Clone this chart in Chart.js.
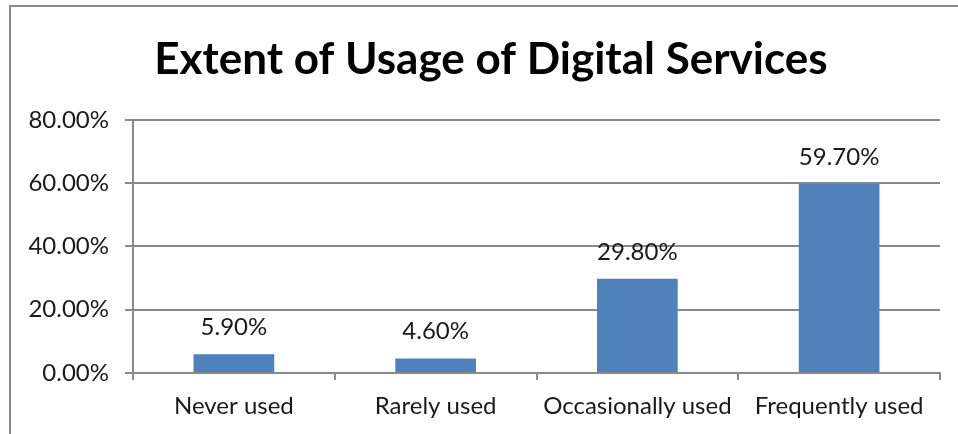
<!DOCTYPE html>
<html>
<head>
<meta charset="utf-8">
<script src="https://cdn.jsdelivr.net/npm/chart.js@4/dist/chart.umd.min.js"></script>
<style>
  html, body { margin: 0; padding: 0; background: #fff; }
  #wrap { position: relative; width: 958px; height: 434px; }
</style>
</head>
<body>
<div id="wrap"><canvas id="chart" width="958" height="434"></canvas></div>
<script>
// Survey data: how often respondents use digital services
const categories = ['Never used', 'Rarely used', 'Occasionally used', 'Frequently used'];
const usageShare = [5.9, 4.6, 29.8, 59.7];
const yTicks = [0, 20, 40, 60, 80];
const chartTitle = 'Extent of Usage of Digital Services';

const GRID = '#898989';
const TEXT = '#1a1a1a';
const FONT = 'Lato';

// Value labels above each bar
const valueLabels = {
  id: 'valueLabels',
  afterDatasetsDraw(chart) {
    const ctx = chart.ctx;
    const meta = chart.getDatasetMeta(0);
    ctx.save();
    ctx.font = '24px ' + FONT;
    ctx.fillStyle = TEXT;
    ctx.textAlign = 'center';
    ctx.textBaseline = 'alphabetic';
    meta.data.forEach((bar, i) => {
      const v = chart.data.datasets[0].data[i];
      ctx.fillText(v.toFixed(2) + '%', bar.x, bar.y - 19);
    });
    ctx.restore();
  }
};

// Centre the title over the full frame width rather than the padded layout box
const titleShift = {
  id: 'titleShift',
  afterLayout(chart) {
    if (chart.titleBlock) chart.titleBlock.left = 42;
  }
};

// Frame lines along the top and left edges
const frame = {
  id: 'frame',
  afterDraw(chart) {
    const ctx = chart.ctx;
    ctx.save();
    ctx.strokeStyle = '#8a8a8a';
    ctx.lineWidth = 2;
    ctx.beginPath();
    ctx.moveTo(10, 434);
    ctx.lineTo(10, 6);
    ctx.lineTo(958, 6);
    ctx.stroke();
    ctx.restore();
  }
};

new Chart(document.getElementById('chart'), {
  type: 'bar',
  data: {
    labels: categories,
    datasets: [{
      data: usageShare,
      backgroundColor: '#4F81BD',
      borderWidth: 0,
      categoryPercentage: 1,
      barPercentage: 0.4
    }]
  },
  options: {
    responsive: false,
    animation: false,
    layout: { padding: { left: 0, right: 18, top: 0, bottom: 0 } },
    plugins: {
      legend: { display: false },
      tooltip: { enabled: false },
      title: {
        display: true,
        text: chartTitle,
        color: '#000',
        font: { family: FONT, size: 44, weight: 'bold' },
        padding: { top: 33, bottom: 34 }
      }
    },
    scales: {
      x: {
        grid: {
          offset: true,
          drawOnChartArea: false,
          drawTicks: true,
          tickLength: 7,
          color: GRID,
          lineWidth: 2
        },
        border: { color: GRID, width: 2 },
        ticks: {
          color: TEXT,
          font: { family: FONT, size: 24 },
          padding: 12,
          maxRotation: 0,
          autoSkip: false
        },
        afterFit(scale) { scale.height = 61; }
      },
      y: {
        min: 0,
        max: 80,
        afterBuildTicks(scale) { scale.ticks = yTicks.map(v => ({ value: v })); },
        grid: {
          color: GRID,
          lineWidth: 2,
          tickLength: 8
        },
        border: { color: GRID, width: 2 },
        ticks: {
          color: TEXT,
          font: { family: FONT, size: 24 },
          padding: 16,
          callback: v => Number(v).toFixed(2) + '%'
        },
        afterFit(scale) { scale.width = 133; }
      }
    }
  },
  plugins: [valueLabels, titleShift, frame]
});
</script>
</body>
</html>
